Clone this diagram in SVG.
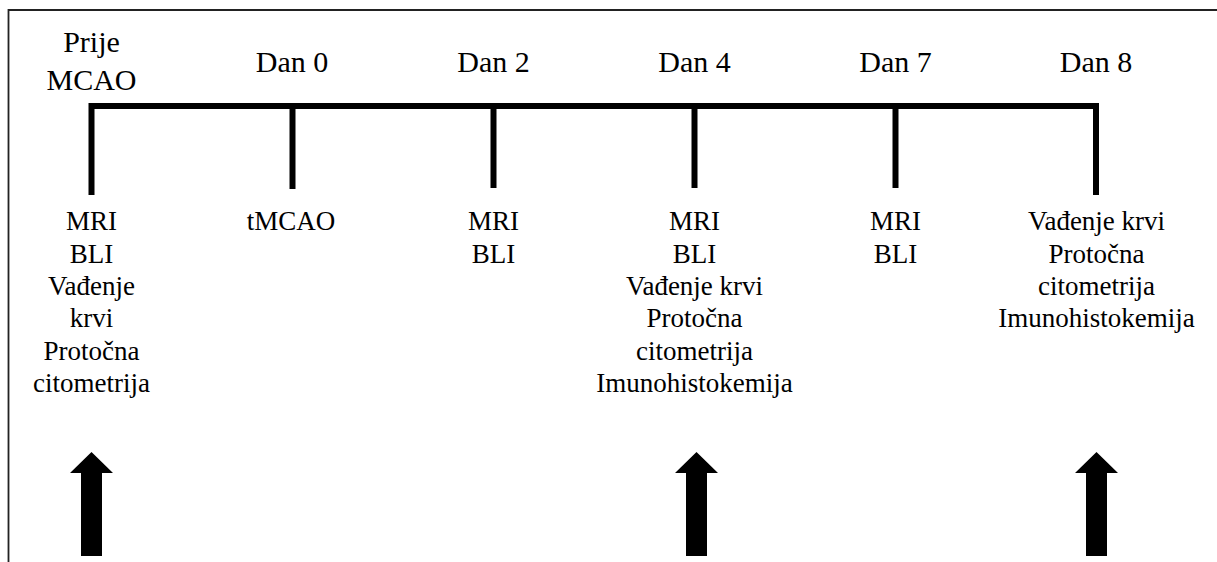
<svg xmlns="http://www.w3.org/2000/svg" width="1217" height="562" viewBox="0 0 1217 562">
  <style>
    .hdr { font-family: 'Liberation Serif', 'Times New Roman', serif; font-size: 30px; fill: #000; text-anchor: middle; }
    .txt { font-family: 'Liberation Serif', 'Times New Roman', serif; font-size: 27px; fill: #000; text-anchor: middle; }
    .axis { stroke: #000; stroke-width: 6; fill: none; stroke-linecap: butt; stroke-linejoin: miter; }
    .arrow { fill: #000; }
  </style>
  <defs>
    <path id="uparrow" d="M -10.5 104 L -10.5 21 L -21.5 21 L 0 0 L 21.5 21 L 10.5 21 L 10.5 104 Z"/>
  </defs>
  <rect width="1217" height="562" fill="#fff"/>
  <g id="frame">
    <path d="M 8.5 562 L 8.5 10 L 1217 10" fill="none" stroke="#222" stroke-width="1.8"/>
  </g>
  <g id="connectors">
    <path class="axis" d="M 91.5 195 L 91.5 106 L 1096 106 L 1096 195"/>
    <line class="axis" x1="292.5" y1="106" x2="292.5" y2="189"/>
    <line class="axis" x1="493.5" y1="106" x2="493.5" y2="188"/>
    <line class="axis" x1="694.5" y1="106" x2="694.5" y2="188"/>
    <line class="axis" x1="895.5" y1="106" x2="895.5" y2="188"/>
  </g>
  <g id="node-prije">
    <text class="hdr" x="91.5" y="52">Prije</text>
    <text class="hdr" x="91.5" y="90">MCAO</text>
    <text class="txt" x="91.5" y="230">MRI</text>
    <text class="txt" x="91.5" y="262.5">BLI</text>
    <text class="txt" x="91.5" y="295">Vađenje</text>
    <text class="txt" x="91.5" y="327">krvi</text>
    <text class="txt" x="91.5" y="359.5">Protočna</text>
    <text class="txt" x="91.5" y="392">citometrija</text>
  </g>
  <g id="node-dan0">
    <text class="hdr" x="292" y="72">Dan 0</text>
    <text class="txt" x="291" y="230">tMCAO</text>
  </g>
  <g id="node-dan2">
    <text class="hdr" x="493.5" y="72">Dan 2</text>
    <text class="txt" x="493.5" y="230">MRI</text>
    <text class="txt" x="493.5" y="262.5">BLI</text>
  </g>
  <g id="node-dan4">
    <text class="hdr" x="694.5" y="72">Dan 4</text>
    <text class="txt" x="694.5" y="230">MRI</text>
    <text class="txt" x="694.5" y="262.5">BLI</text>
    <text class="txt" x="694.5" y="295">Vađenje krvi</text>
    <text class="txt" x="694.5" y="327">Protočna</text>
    <text class="txt" x="694.5" y="359.5">citometrija</text>
    <text class="txt" x="694.5" y="392">Imunohistokemija</text>
  </g>
  <g id="node-dan7">
    <text class="hdr" x="895.5" y="72">Dan 7</text>
    <text class="txt" x="895.5" y="230">MRI</text>
    <text class="txt" x="895.5" y="262.5">BLI</text>
  </g>
  <g id="node-dan8">
    <text class="hdr" x="1096" y="72">Dan 8</text>
    <text class="txt" x="1096.5" y="230">Vađenje krvi</text>
    <text class="txt" x="1096.5" y="262.5">Protočna</text>
    <text class="txt" x="1096.5" y="295">citometrija</text>
    <text class="txt" x="1096.5" y="327">Imunohistokemija</text>
  </g>
  <g id="arrows">
    <use href="#uparrow" class="arrow" x="91.5" y="452"/>
    <use href="#uparrow" class="arrow" x="696.5" y="452"/>
    <use href="#uparrow" class="arrow" x="1096.5" y="452"/>
  </g>
</svg>
